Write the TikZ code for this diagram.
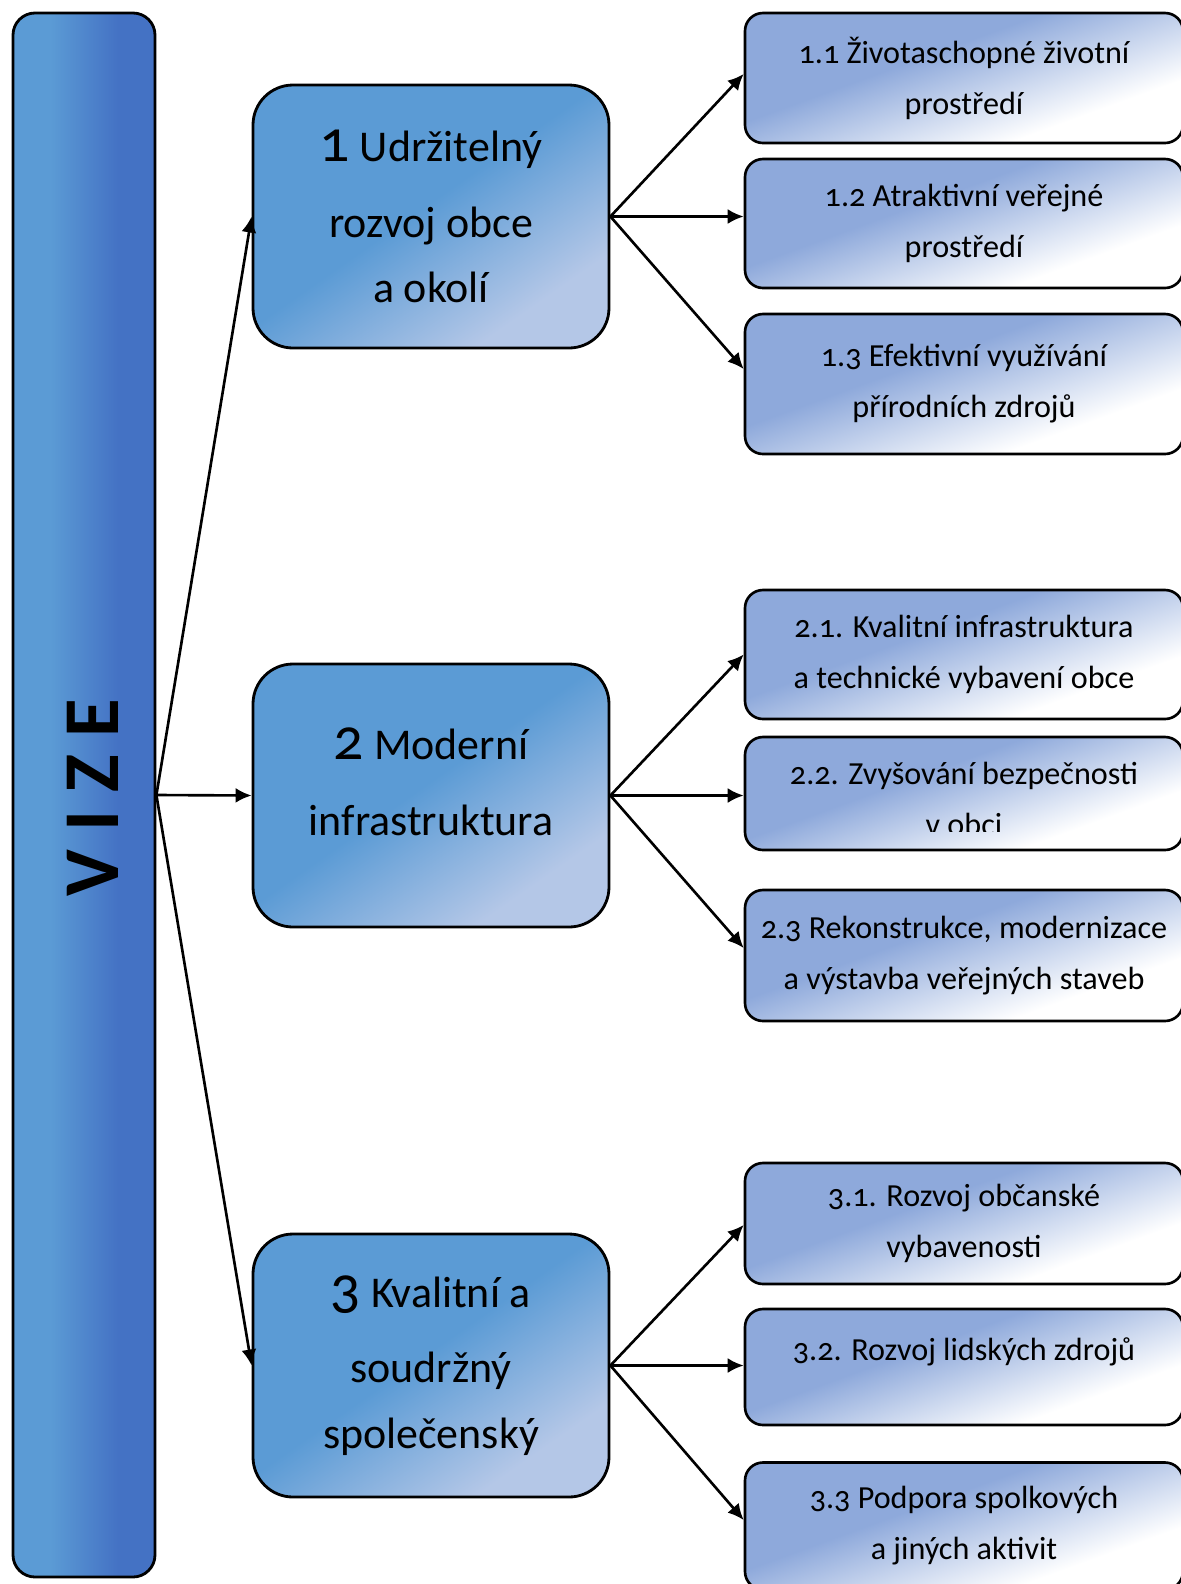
\documentclass[tikz,border=0pt]{standalone}
\usepackage{fontspec}
\setmainfont{Carlito}[Numbers=OldStyle]
\usepackage{tikz}
\usetikzlibrary{arrows.meta,positioning,calc}
\definecolor{vizelight}{HTML}{5B9BD5}
\definecolor{vizedark}{HTML}{4472C4}
\definecolor{goalblue}{HTML}{5B9BD5}
\definecolor{goallight}{HTML}{B4C7E7}
\definecolor{measureblue}{HTML}{8EA9DB}
\pgfdeclarehorizontalshading{vizeshade}{100bp}{color(0bp)=(vizelight); color(38bp)=(vizelight); color(62bp)=(vizedark); color(100bp)=(vizedark)}
\pgfdeclareverticalshading{goalshade}{100bp}{color(0bp)=(goallight); color(28bp)=(goallight); color(52bp)=(goalblue); color(100bp)=(goalblue)}
\pgfdeclareverticalshading{measureshade}{100bp}{color(0bp)=(white); color(32bp)=(white); color(58bp)=(measureblue); color(100bp)=(measureblue)}
\newcommand{\goalnum}[1]{{\fontsize{34}{37}\selectfont #1}}

\begin{document}
\begin{tikzpicture}[every node/.style={align=center},vision/.style={draw,shade,shading=vizeshade,line width=1.6pt,rounded corners=0.44cm,minimum width=2.84cm,minimum height=31.28cm},goal/.style={draw,shade,shading=goalshade,shading angle=35,line width=1.6pt,rounded corners=0.8cm,minimum width=7.12cm,minimum height=5.26cm,font=\fontsize{25}{37.5}\selectfont},measure/.style={draw,shade,shading=measureshade,shading angle=20,line width=1.5pt,rounded corners=0.36cm,minimum width=8.76cm,minimum height=#1,font=\fontsize{18.3}{29}\selectfont},link/.style={-{Latex[length=0.32cm,width=0.3cm]},line width=1.5pt}]
\useasboundingbox (0,0) rectangle (23.62,-31.68);
\node[vision] (vize) at (1.68,-15.9) {};
\node[rotate=90,font=\fontsize{45}{45}\selectfont\bfseries] (vizetxt) at (1.85,-15.95) {V I Z E};
% goals
\node[goal,text depth=-0.19cm] (g1) at (8.62,-4.33) {\goalnum{1} Udržitelný\\[5.5pt]rozvoj obce\\a okolí};
\node[goal,text depth=0.55cm] (g2) at (8.62,-15.91) {\goalnum{2} Moderní\\[5.5pt]infrastruktura};
\node[goal] (g3) at (8.62,-27.31) {\goalnum{3} Kvalitní a\\[5.5pt]soudržný\\společenský};
% measures
\node[measure=2.6cm] (m11) at (19.28,-1.56) {1.1 Životaschopné životní\\prostředí};
\node[measure=2.58cm] (m12) at (19.28,-4.47) {1.2 Atraktivní veřejné\\prostředí};
\node[measure=2.8cm] (m13) at (19.28,-7.68) {1.3 Efektivní využívání\\přírodních zdrojů};
\node[measure=2.58cm] (m21) at (19.28,-13.09) {2.1. Kvalitní infrastruktura\\a technické vybavení obce};
\node[measure=2.26cm] (m22) at (19.28,-15.87) {};
\begin{scope}
\clip (m22.north west) rectangle ($(m22.east)+(0,-0.76)$);
\node[font=\fontsize{18.3}{29}\selectfont] (m22txt) at ($(m22.center)+(0,-0.1)$) {2.2. Zvyšování bezpečnosti\\v obci};
\end{scope}
\node[measure=2.62cm] (m23) at (19.28,-19.11) {2.3 Rekonstrukce, modernizace\\a výstavba veřejných staveb};
\node[measure=2.42cm] (m31) at (19.28,-24.47) {3.1. Rozvoj občanské\\vybavenosti};
\node[measure=2.32cm] (m32) at (19.28,-27.34) {3.2. Rozvoj lidských zdrojů\\[-9pt]~};
\node[measure=2.54cm] (m33) at (19.28,-30.52) {3.3 Podpora spolkových\\a jiných aktivit};
% connectors
\foreach \g in {1,2,3}
  \draw[link] (vize.east) -- (g\g.west);
\foreach \g/\up/\dn in {1/0.08/0.3,2/0/0.15,3/-0.03/0.12}{
  \draw[link] (g\g.east) -- ($(m\g1.west)+(0,\up)$);
  \draw[link] (g\g.east) -- (g\g.east -| m\g2.west);
  \draw[link] (g\g.east) -- ($(m\g3.west)+(0,\dn)$);
}
\end{tikzpicture}
\end{document}
